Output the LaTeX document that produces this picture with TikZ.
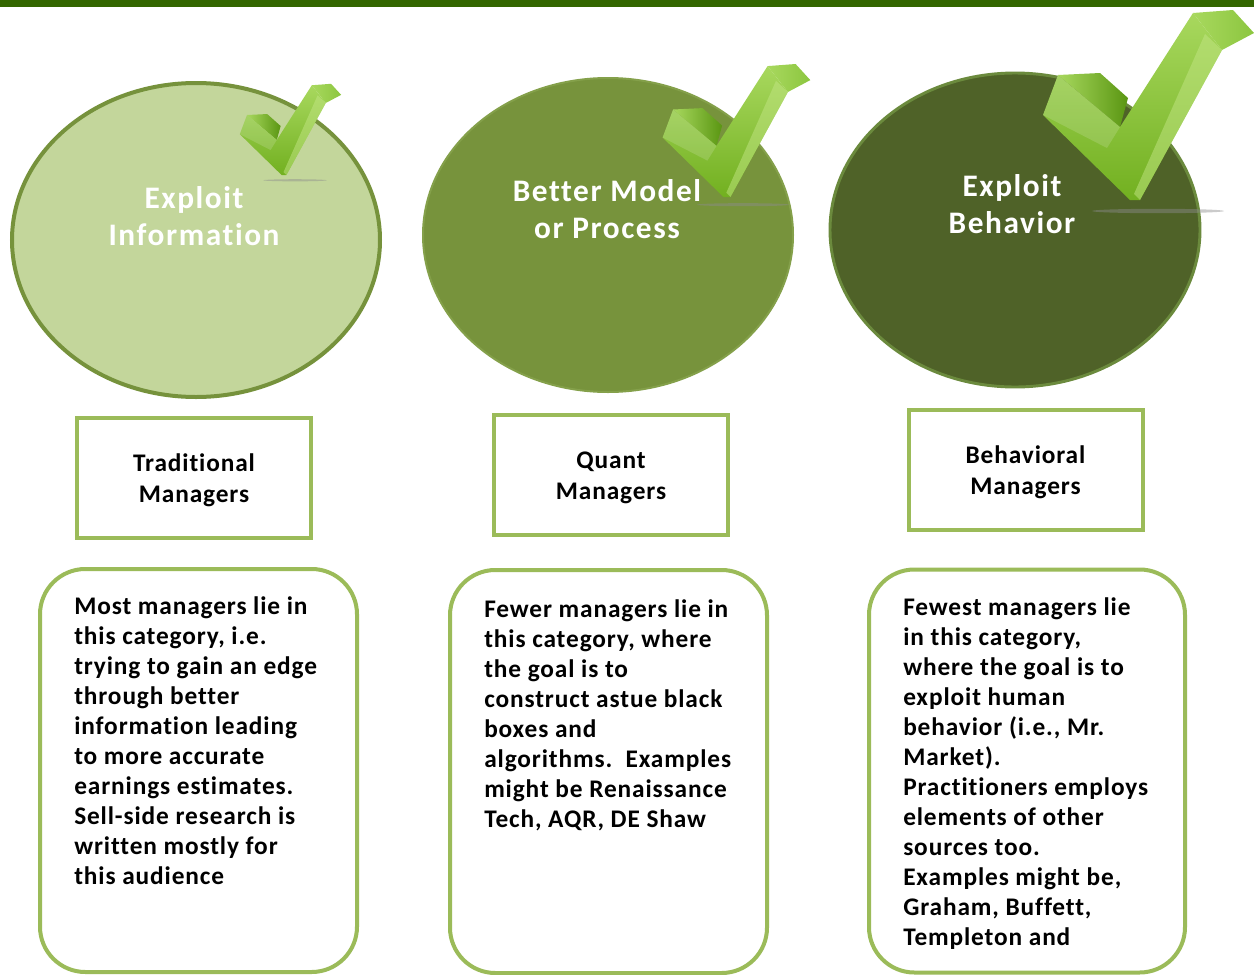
\documentclass[tikz,border=0pt]{standalone}
\usepackage{fontspec}
\setmainfont[Ligatures=NoCommon]{Carlito}
\newfontfamily\bodyfont[LetterSpace=3.5,Ligatures=NoCommon]{Carlito}
\newfontfamily\headfont[LetterSpace=5,Ligatures=NoCommon]{Carlito}
\usetikzlibrary{shapes.geometric}
\definecolor{topbar}{HTML}{336600}
\definecolor{cAfill}{HTML}{C3D69B}
\definecolor{cAdraw}{HTML}{76923C}
\definecolor{cBfill}{HTML}{77933C}
\definecolor{cBdraw}{HTML}{84A04A}
\definecolor{cCfill}{HTML}{4F6228}
\definecolor{cCdraw}{HTML}{6B8A3D}
\definecolor{boxdraw}{HTML}{9BBB59}
\definecolor{chkA}{HTML}{A8D85E}
\definecolor{chkB}{HTML}{72B020}
\definecolor{chkC}{HTML}{5A9612}
\definecolor{chkD}{HTML}{8CC63F}
\definecolor{chkE}{HTML}{C2E584}
\newcommand\drawchk{%
  \fill[black!45,opacity=0.45] (23,11) ellipse [x radius=66, y radius=2.2];
  \shade[left color=chkA,right color=chkC] (-77,-125) -- (-35,-127) -- (-7,-102) -- (-15,-73) -- cycle;
  \shade[left color=chkA,right color=chkD] (58,-187) -- (98,-190) -- (119,-167) -- (87,-150) -- cycle;
  \shade[top color=chkA,bottom color=chkB] (-92,-85) -- (-77,-125) -- (-15,-73) -- (58,-187) -- (87,-150) -- (5,0) -- (-5,0) -- cycle;
  \fill[chkE,opacity=0.5] (70,-166) -- (87,-150) -- (5,0) -- (-1,-6) -- cycle;
  \fill[white,opacity=0.15] (-92,-85) -- (-77,-125) -- (-15,-73) -- (-28,-52) -- cycle;
}
\tikzset{
  bubble/.style={ellipse, line width=3pt, inner sep=0pt},
  bubbletext/.style={align=center, text=white, inner sep=0pt, font={\headfont\bfseries\fontsize{23.5}{28}\selectfont}},
  titlebox/.style={rectangle, draw=boxdraw, line width=3pt, minimum width=175.5pt, minimum height=90pt, inner sep=0pt},
  titletext/.style={align=center, inner sep=0pt, font={\bodyfont\bfseries\fontsize{19}{23}\selectfont}},
  notebox/.style={rectangle, rounded corners=34pt, draw=boxdraw, line width=3pt, minimum width=237.75pt, minimum height=302.25pt, inner sep=0pt},
  notetext/.style={align=left, anchor=north west, inner sep=0pt, font={\bodyfont\bfseries\fontsize{19}{22.5}\selectfont}}
}
\begin{document}
\begin{tikzpicture}[x=0.75pt,y=-0.75pt]
\useasboundingbox (0,0) rectangle (1254,975);
\fill[white] (0,0) rectangle (1254,975);
\fill[topbar] (0,0) rectangle (1254,7);

% circles
\node[bubble, fill=cAfill, draw=cAdraw, minimum width=276pt, minimum height=235.5pt] (cA) at (196,240) {};
\node[bubble, fill=cBfill, draw=cBdraw, line width=1.5pt, minimum width=277.5pt, minimum height=235.5pt] (cB) at (608,235) {};
\node[bubble, fill=cCfill, draw=cCdraw, line width=2.2pt, minimum width=277.5pt, minimum height=235.5pt] (cC) at (1015,230) {};

\node[bubbletext] (tA) at (194,216) {Exploit\\Information};
\node[bubbletext] (tB) at (607,209) {Better Model\\or Process};
\node[bubbletext] (tC) at (1012,204) {Exploit\\Behavior};

% check marks
\begin{scope}[shift={(284,175)}, scale=0.48]\drawchk\end{scope}
\begin{scope}[shift={(727,197)}, scale=0.70]\drawchk\end{scope}
\begin{scope}[shift={(1135,200)}, scale=1]\drawchk\end{scope}

% title boxes
\node[titlebox] (bA) at (194,478) {};
\node[titlebox] (bB) at (611,475) {};
\node[titlebox] (bC) at (1025.5,470) {};
\node[titletext] (lA) at (194,480.5) {Traditional\\Managers};
\node[titletext] (lB) at (611,477.5) {Quant\\Managers};
\node[titletext] (lC) at (1025.5,472.5) {Behavioral\\Managers};

% note boxes
\node[notebox] (nA) at (198.5,770.5) {};
\node[notebox] (nB) at (608.5,771.5) {};
\node[notebox, minimum width=237pt] (nC) at (1027,771) {};

\node[notetext] (xA) at (74,596) {Most managers lie in\\this category, i.e.\\trying to gain an edge\\through better\\information leading\\to more accurate\\earnings estimates.\\Sell-side research is\\written mostly for\\this audience};
\node[notetext] (xB) at (484,599) {Fewer managers lie in\\this category, where\\the goal is to\\construct astue black\\boxes and\\algorithms.\ \ Examples\\might be Renaissance\\Tech, AQR, DE Shaw};
\node[notetext] (xC) at (903,597) {Fewest managers lie\\in this category,\\where the goal is to\\exploit human\\behavior (i.e., Mr.\\Market).\\Practitioners employs\\elements of other\\sources too.\\Examples might be,\\Graham, Buffett,\\Templeton and};
\end{tikzpicture}
\end{document}
